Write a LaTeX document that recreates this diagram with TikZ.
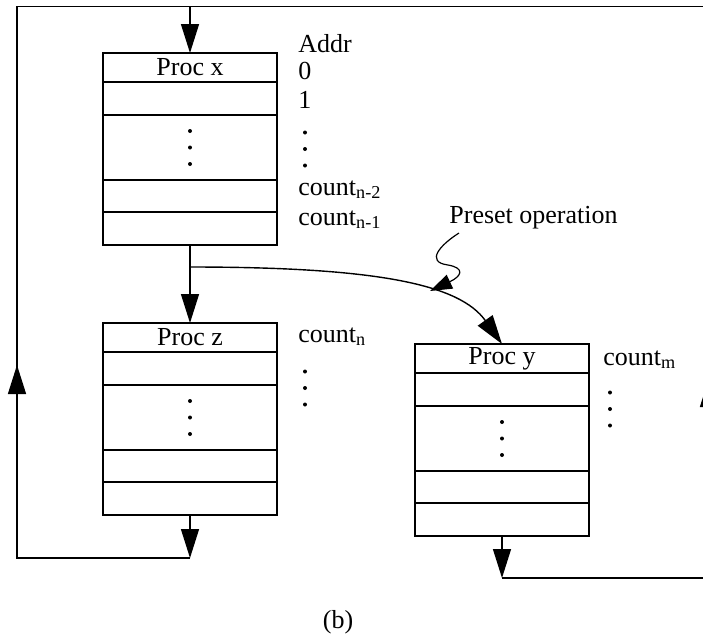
\documentclass[tikz,border=0pt]{standalone}
\usepackage{fontspec}
\setmainfont{Liberation Serif}
\usetikzlibrary{arrows.meta, positioning}

\begin{document}
\begin{tikzpicture}[
    x=0.5pt, y=-0.5pt,
    cell/.style={draw, line width=0.7pt, minimum width=87pt, inner sep=0pt, outer sep=0pt, font=\fontsize{13}{15}\selectfont},
    lbl/.style={anchor=base west, inner sep=0pt, font=\fontsize{13}{15}\selectfont},
    arrow/.style={-{Triangle[length=14.5pt, width=9pt]}, line width=0.7pt},
    smallarrow/.style={-{Triangle[length=11pt, width=7.5pt]}, line width=0.6pt},
    link/.style={line width=0.7pt},
    node distance=0pt
]
\clip (0,0) rectangle (703,639);

% Proc x
\node[cell, anchor=north, minimum height=14.5pt] (x1) at (190,53) {Proc x};
\node[cell, minimum height=16.5pt, below=of x1] (x2) {};
\node[cell, minimum height=32.5pt, below=of x2] (x3) {};
\node[cell, minimum height=16pt, below=of x3] (x4) {};
\node[cell, minimum height=16.5pt, below=of x4] (x5) {};

% Proc z
\node[cell, anchor=north, minimum height=14.5pt] (z1) at (190,323) {Proc z};
\node[cell, minimum height=16.5pt, below=of z1] (z2) {};
\node[cell, minimum height=32.5pt, below=of z2] (z3) {};
\node[cell, minimum height=16pt, below=of z3] (z4) {};
\node[cell, minimum height=16.5pt, below=of z4] (z5) {};

% Proc y
\node[cell, anchor=north, minimum height=14.5pt] (y1) at (502,344) {Proc y};
\node[cell, minimum height=16.5pt, below=of y1] (y2) {};
\node[cell, minimum height=32.5pt, below=of y2] (y3) {};
\node[cell, minimum height=16pt, below=of y3] (y4) {};
\node[cell, minimum height=16.5pt, below=of y4] (y5) {};

% addresses
\node[lbl] (addr) at (298,52) {Addr};
\node[lbl] (a0) at (298,79) {0};
\node[lbl] (a1) at (298,108) {1};
\coordinate (adots) at (305,149);
\node[lbl] (cn2) at (298,195) {count\textsubscript{n-2}};
\node[lbl] (cn1) at (298,225) {count\textsubscript{n-1}};
\node[lbl] (cn) at (298,342) {count\textsubscript{n}};
\coordinate (zdots) at (305,388);
\node[lbl] (cm) at (603,365) {count\textsubscript{m}};
\coordinate (ydots) at (610,409);

\node[lbl] (preset) at (449,223) {Preset operation};
\node[lbl, anchor=base] (cap) at (338,628) {(b)};

% vertical dots
\foreach \c in {x3, z3, y3, adots, zdots, ydots}
  \foreach \d in {-16.5, 0, 16.5}
    \fill (\c) ++(0,\d) circle (1pt);

% loop points
\coordinate (top) at (190,6.5);
\coordinate (lt) at (17,6.5);
\coordinate (lm) at (17,365);
\coordinate (lb) at (17,558);
\coordinate (zb) at (190,558);
\coordinate (yb) at (502,578);
\coordinate (rb) at (709,578);
\coordinate (rm) at (709,378);
\coordinate (rt) at (709,6.5);
\coordinate (fork) at (190,267);
\coordinate (sq) at (459,233);
\coordinate (hit) at (430,291);

\draw[arrow] (top) -- (x1.north);
\draw[arrow] (x5.south) -- (z1.north);
\draw[arrow] (fork) .. controls (380,267) and (460,285) .. (y1.north);

\draw[arrow] (z5.south) -- (zb);
\draw[link] (zb) -- (lb) -- (lt) -- (top);
\draw[arrow] (lb) -- (lm);

\draw[arrow] (y5.south) -- (yb);
\draw[link] (yb) -- (rb) -- (rt) -- (top);
\draw[arrow] (rb) -- (rm);

\draw[smallarrow] (sq) .. controls (440,245) and (425,262) .. (448,265) .. controls (465,268) and (462,276) .. (hit);

\end{tikzpicture}
\end{document}
